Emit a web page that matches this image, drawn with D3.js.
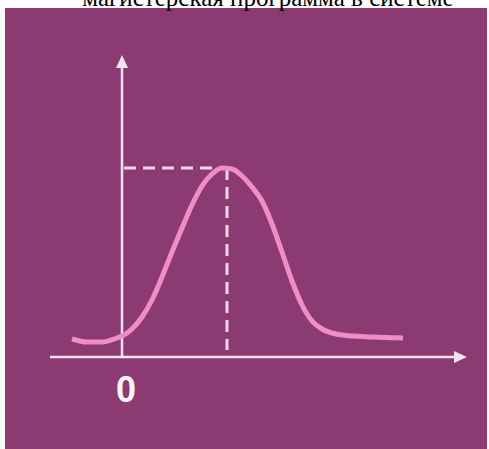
<!DOCTYPE html>
<html>
<head>
<meta charset="utf-8">
<script src="https://cdn.jsdelivr.net/npm/d3@7"></script>
<style>
html,body{margin:0;padding:0;background:#fff;overflow:hidden;}
svg{display:block;}
</style>
</head>
<body>
<svg id="chart" width="489" height="449"></svg>
<script>
// Title (cut off at top in the reference)
const titleText = "магистерская программа в системе";
// Curve points [x, y] in data units (0 on the x axis = vertical axis)
const curveX = [-5.0, -3.5, -2.0, -0.5, 0, 1.0, 2.0, 3.0, 4.0, 5.0, 6.0, 7.0, 8.0, 9.0, 10.0, 11.0, 12.0, 13.0, 14.0, 15.0, 16.0, 17.0, 18.0, 19.0, 20.0, 22.0, 25.0, 28.1];
const curveY = [1.8, 1.5, 1.5, 1.9, 2.1, 2.8, 4.0, 5.7, 8.0, 10.5, 12.9, 15.2, 17.1, 18.3, 18.9, 18.8, 18.1, 17.0, 15.6, 13.3, 10.5, 7.6, 5.2, 3.6, 2.8, 2.2, 2.0, 1.9];
// Peak marker
const peakX = [10.5];
const peakY = [18.9];
const tickLabels = ["0"];
const tickValues = [0];

const svg = d3.select("#chart");
const W = 489, H = 449;

// background panel
svg.append("rect").attr("x", 5).attr("y", 8).attr("width", 482).attr("height", H - 8).attr("fill", "#8b3b72");

// title
svg.append("text").attr("x", 268).attr("y", 6)
  .attr("text-anchor", "middle")
  .attr("font-family", "Liberation Serif, Times New Roman, serif")
  .attr("font-size", 25).attr("fill", "#000").text(titleText);

const x = d3.scaleLinear().domain([-7.2, 34.5]).range([50, 467]);
const y = d3.scaleLinear().domain([0, 30.2]).range([357, 55]);

const axisColor = "#f6e3ef";

// x axis line + arrow
svg.append("line").attr("x1", x(-7.2)).attr("x2", x(34.5) - 10)
  .attr("y1", y(0)).attr("y2", y(0)).attr("stroke", axisColor).attr("stroke-width", 2.5);
svg.append("path")
  .attr("d", `M${x(34.5)},${y(0)} L${x(34.5) - 13},${y(0) - 6} L${x(34.5) - 13},${y(0) + 6} Z`)
  .attr("fill", axisColor);

// y axis line + arrow
svg.append("line").attr("x1", x(0)).attr("x2", x(0))
  .attr("y1", y(0)).attr("y2", y(30.2) + 10).attr("stroke", axisColor).attr("stroke-width", 2.5);
svg.append("path")
  .attr("d", `M${x(0)},${y(30.2)} L${x(0) - 6},${y(30.2) + 13} L${x(0) + 6},${y(30.2) + 13} Z`)
  .attr("fill", axisColor);

// dashed guides
const dashColor = "#f3d6e8";
svg.append("line").attr("x1", x(0) + 2).attr("x2", x(peakX[0]))
  .attr("y1", y(peakY[0])).attr("y2", y(peakY[0]))
  .attr("stroke", dashColor).attr("stroke-width", 3).attr("stroke-dasharray", "12,7");
svg.append("line").attr("x1", x(peakX[0])).attr("x2", x(peakX[0]))
  .attr("y1", y(peakY[0])).attr("y2", y(0.7))
  .attr("stroke", dashColor).attr("stroke-width", 3).attr("stroke-dasharray", "12,7");

// curve
const pts = curveX.map((v, i) => [v, curveY[i]]);
const line = d3.line().x(d => x(d[0])).y(d => y(d[1])).curve(d3.curveMonotoneX);
svg.append("path").datum(pts).attr("d", line)
  .attr("fill", "none").attr("stroke", "#f08dc7").attr("stroke-width", 5)
  .attr("stroke-linecap", "butt").attr("stroke-linejoin", "round");

// tick label
svg.selectAll("text.tick").data(tickValues).enter().append("text")
  .attr("class", "tick")
  .attr("x", d => x(d) + 4).attr("y", 402)
  .attr("text-anchor", "middle")
  .attr("font-family", "Liberation Sans, Arial, sans-serif")
  .attr("font-weight", "bold").attr("font-size", 36)
  .attr("fill", "#fbf3f8")
  .text((d, i) => tickLabels[i]);
</script>
</body>
</html>
